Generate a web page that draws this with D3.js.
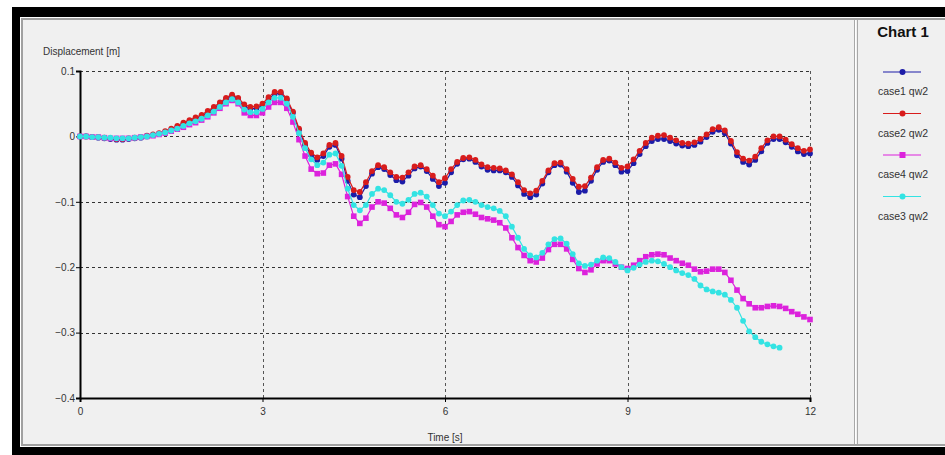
<!DOCTYPE html>
<html>
<head>
<meta charset="utf-8">
<script src="https://cdn.jsdelivr.net/npm/d3@7"></script>
<style>
  html, body { margin: 0; padding: 0; background: #ffffff; }
  svg { display: block; }
  text { font-family: "Liberation Sans", Arial, sans-serif; }
</style>
</head>
<body>
<svg id="chart" width="945" height="455"></svg>
<script>
// ---- data ----
const chartTitle = "Chart 1";
const xTitle = "Time [s]";
const yTitle = "Displacement [m]";
const xTicks = [0, 3, 6, 9, 12];
const yTicks = [0.1, 0, -0.1, -0.2, -0.3, -0.4];
const seriesNames = ["case1 qw2", "case2 qw2", "case4 qw2", "case3 qw2"];
const seriesColors = ["#1c1ca8", "#d81c1c", "#dc22dc", "#33e3e3"];
const seriesMarkers = ["circle", "circle", "square", "circle"];
const timeStep = 0.1;

const case1 = [0.000,0.000,-0.001,-0.002,-0.003,-0.004,-0.005,-0.005,-0.004,-0.003,-0.002,
 0.000,0.002,0.004,0.007,0.010,0.014,0.019,0.023,0.027,0.031,
 0.037,0.043,0.050,0.057,0.062,0.057,0.046,0.042,0.043,0.047,
 0.057,0.065,0.066,0.056,0.036,0.010,-0.013,-0.029,-0.036,-0.030,
 -0.016,-0.013,-0.034,-0.068,-0.089,-0.093,-0.076,-0.057,-0.047,-0.050,
 -0.059,-0.067,-0.069,-0.060,-0.049,-0.046,-0.053,-0.065,-0.076,-0.071,
 -0.055,-0.042,-0.035,-0.034,-0.039,-0.046,-0.051,-0.052,-0.052,-0.055,
 -0.062,-0.075,-0.088,-0.093,-0.089,-0.072,-0.055,-0.044,-0.043,-0.054,
 -0.071,-0.085,-0.083,-0.068,-0.051,-0.039,-0.037,-0.044,-0.054,-0.053,
 -0.041,-0.027,-0.015,-0.007,-0.004,-0.004,-0.007,-0.011,-0.014,-0.015,
 -0.013,-0.008,-0.001,0.007,0.010,0.005,-0.011,-0.029,-0.039,-0.043,
 -0.036,-0.023,-0.010,-0.004,-0.004,-0.009,-0.016,-0.023,-0.027,-0.026];

const case2 = [0.000,0.000,-0.001,-0.001,-0.002,-0.003,-0.004,-0.004,-0.003,-0.002,-0.001,
 0.001,0.003,0.005,0.008,0.012,0.016,0.021,0.025,0.029,0.033,
 0.039,0.045,0.052,0.059,0.064,0.059,0.049,0.045,0.046,0.050,
 0.060,0.068,0.068,0.058,0.038,0.012,-0.010,-0.025,-0.032,-0.026,
 -0.013,-0.010,-0.030,-0.062,-0.082,-0.085,-0.070,-0.053,-0.044,-0.047,
 -0.055,-0.062,-0.063,-0.055,-0.046,-0.044,-0.050,-0.060,-0.070,-0.064,
 -0.050,-0.039,-0.033,-0.032,-0.036,-0.043,-0.047,-0.048,-0.049,-0.052,
 -0.058,-0.070,-0.082,-0.087,-0.083,-0.068,-0.052,-0.041,-0.040,-0.050,
 -0.065,-0.077,-0.076,-0.063,-0.047,-0.036,-0.034,-0.040,-0.048,-0.046,
 -0.035,-0.022,-0.010,-0.002,0.001,0.002,-0.002,-0.006,-0.010,-0.011,
 -0.009,-0.004,0.003,0.011,0.014,0.009,-0.007,-0.024,-0.034,-0.037,
 -0.031,-0.018,-0.006,0.000,0.000,-0.005,-0.012,-0.018,-0.022,-0.020];

const case4 = [0.000,0.000,-0.001,-0.001,-0.002,-0.003,-0.003,-0.003,-0.003,-0.002,-0.001,
 0.000,0.001,0.003,0.005,0.008,0.011,0.014,0.018,0.021,0.025,
 0.030,0.036,0.043,0.050,0.055,0.050,0.036,0.032,0.032,0.036,
 0.045,0.052,0.052,0.043,0.022,-0.005,-0.030,-0.050,-0.057,-0.056,
 -0.044,-0.042,-0.058,-0.092,-0.122,-0.133,-0.125,-0.108,-0.100,-0.102,
 -0.110,-0.120,-0.124,-0.116,-0.104,-0.101,-0.108,-0.122,-0.135,-0.138,
 -0.130,-0.120,-0.116,-0.115,-0.119,-0.124,-0.126,-0.128,-0.132,-0.140,
 -0.155,-0.170,-0.182,-0.190,-0.192,-0.186,-0.173,-0.165,-0.165,-0.172,
 -0.188,-0.202,-0.208,-0.204,-0.195,-0.190,-0.190,-0.195,-0.200,-0.202,
 -0.197,-0.190,-0.184,-0.181,-0.180,-0.181,-0.186,-0.190,-0.194,-0.197,
 -0.203,-0.207,-0.206,-0.203,-0.203,-0.208,-0.220,-0.235,-0.248,-0.256,
 -0.262,-0.262,-0.260,-0.259,-0.260,-0.263,-0.268,-0.272,-0.276,-0.280];

const case3 = [0.000,0.000,-0.001,-0.001,-0.002,-0.002,-0.003,-0.003,-0.003,-0.002,-0.001,
 0.000,0.002,0.004,0.006,0.009,0.012,0.016,0.020,0.023,0.027,
 0.032,0.038,0.045,0.052,0.057,0.052,0.041,0.037,0.037,0.042,
 0.052,0.059,0.059,0.050,0.030,0.005,-0.018,-0.035,-0.044,-0.040,
 -0.028,-0.026,-0.045,-0.080,-0.105,-0.113,-0.105,-0.088,-0.080,-0.082,
 -0.090,-0.100,-0.103,-0.097,-0.088,-0.086,-0.092,-0.105,-0.118,-0.122,
 -0.115,-0.105,-0.098,-0.097,-0.100,-0.105,-0.108,-0.110,-0.114,-0.122,
 -0.138,-0.155,-0.172,-0.182,-0.185,-0.178,-0.165,-0.157,-0.156,-0.164,
 -0.180,-0.194,-0.198,-0.196,-0.190,-0.185,-0.186,-0.192,-0.200,-0.205,
 -0.201,-0.196,-0.192,-0.190,-0.191,-0.195,-0.200,-0.205,-0.209,-0.212,
 -0.218,-0.228,-0.234,-0.237,-0.239,-0.242,-0.250,-0.262,-0.282,-0.298,
 -0.307,-0.314,-0.318,-0.321,-0.323];

const seriesValues = [case1, case2, case4, case3];

// ---- drawing ----
const svg = d3.select("#chart");
const W = 945, H = 455;

// outer frame
svg.append("rect").attr("x", 0).attr("y", 0).attr("width", W).attr("height", H).attr("fill", "#ffffff");
svg.append("rect").attr("x", 12).attr("y", 7).attr("width", W - 12).attr("height", H - 7).attr("fill", "#000000");
svg.append("rect").attr("x", 20).attr("y", 17).attr("width", W - 20).attr("height", 430).attr("fill", "#ffffff");
svg.append("rect").attr("x", 21).attr("y", 18).attr("width", W - 21).attr("height", 428).attr("fill", "#a0a0a0");
svg.append("rect").attr("x", 23).attr("y", 20).attr("width", W - 23).attr("height", 424).attr("fill", "#f0f0f0");

// panel divider
svg.append("line").attr("x1", 854.5).attr("x2", 854.5).attr("y1", 20).attr("y2", 444).attr("stroke", "#a8a8a8").attr("stroke-width", 1);
svg.append("line").attr("x1", 855.5).attr("x2", 855.5).attr("y1", 20).attr("y2", 444).attr("stroke", "#ffffff").attr("stroke-width", 1);
svg.append("line").attr("x1", 857.5).attr("x2", 857.5).attr("y1", 20).attr("y2", 444).attr("stroke", "#a8a8a8").attr("stroke-width", 1);

const x = d3.scaleLinear().domain([0, 12]).range([80, 810]);
const y = d3.scaleLinear().domain([-0.4, 0.1]).range([398, 71]);

// grid
const grid = svg.append("g");
grid.selectAll("line.h").data(yTicks.filter(d => d > -0.4)).enter().append("line")
  .attr("x1", x(0)).attr("x2", x(12))
  .attr("y1", d => Math.round(y(d)) + 0.5).attr("y2", d => Math.round(y(d)) + 0.5)
  .attr("stroke", "#333").attr("stroke-width", 1.2).attr("stroke-dasharray", "3,3");
grid.selectAll("line.v").data(xTicks.filter(d => d > 0)).enter().append("line")
  .attr("x1", d => Math.round(x(d)) + 0.5).attr("x2", d => Math.round(x(d)) + 0.5)
  .attr("y1", y(0.1)).attr("y2", y(-0.4))
  .attr("stroke", "#555").attr("stroke-width", 1).attr("stroke-dasharray", "3,3");

// axes
const fmtY = d => d === 0 ? "0" : d3.format(".1f")(d);
const gy = svg.append("g").attr("transform", `translate(${x(0)},0)`)
  .call(d3.axisLeft(y).tickValues(yTicks).tickFormat(fmtY).tickSize(4).tickPadding(1));
const gx = svg.append("g").attr("transform", `translate(0,${y(-0.4)})`)
  .call(d3.axisBottom(x).tickValues(xTicks).tickFormat(d3.format("d")).tickSize(4).tickPadding(6));
[gy, gx].forEach(g => {
  g.select(".domain").attr("stroke", "#000").attr("stroke-width", 2);
  g.selectAll(".tick line").attr("stroke", "#000");
  g.selectAll(".tick text").attr("fill", "#333").attr("font-size", 10)
    .attr("font-family", "'Liberation Sans', Arial, sans-serif");
});

// titles
svg.append("text").attr("x", 43).attr("y", 55).attr("font-size", 10).attr("fill", "#333")
  .attr("textLength", 77).text(yTitle);
svg.append("text").attr("x", x(6)).attr("y", 441).attr("text-anchor", "middle")
  .attr("font-size", 10).attr("fill", "#333").text(xTitle);

// series
const line = d3.line().x((d, i) => x(i * timeStep)).y(d => y(d));
const marks = svg.append("g");
seriesValues.forEach((vals, k) => {
  const g = marks.append("g");
  g.append("path").datum(vals).attr("d", line).attr("fill", "none")
    .attr("stroke", seriesColors[k]).attr("stroke-width", 1.2);
  if (seriesMarkers[k] === "square") {
    g.selectAll("rect").data(vals).enter().append("rect")
      .attr("x", (d, i) => x(i * timeStep) - 2.8).attr("y", d => y(d) - 2.8)
      .attr("width", 5.6).attr("height", 5.6).attr("fill", seriesColors[k]);
  } else {
    g.selectAll("circle").data(vals).enter().append("circle")
      .attr("cx", (d, i) => x(i * timeStep)).attr("cy", d => y(d))
      .attr("r", 2.9).attr("fill", seriesColors[k]);
  }
});

// legend
svg.append("text").attr("x", 903).attr("y", 37).attr("text-anchor", "middle")
  .attr("font-size", 15).attr("font-weight", "bold").attr("fill", "#111").text(chartTitle);
const leg = svg.append("g");
seriesNames.forEach((name, k) => {
  const ly = 72 + k * 41.5;
  leg.append("line").attr("x1", 883).attr("x2", 921).attr("y1", ly).attr("y2", ly)
    .attr("stroke", seriesColors[k]).attr("stroke-width", 1);
  if (seriesMarkers[k] === "square") {
    leg.append("rect").attr("x", 899.5).attr("y", ly - 3).attr("width", 6).attr("height", 6).attr("fill", seriesColors[k]);
  } else {
    leg.append("circle").attr("cx", 902.5).attr("cy", ly).attr("r", 3).attr("fill", seriesColors[k]);
  }
  leg.append("text").attr("x", 903).attr("y", ly + 23).attr("text-anchor", "middle")
    .attr("font-size", 10.5).attr("fill", "#333").text(name);
});
</script>
</body>
</html>
